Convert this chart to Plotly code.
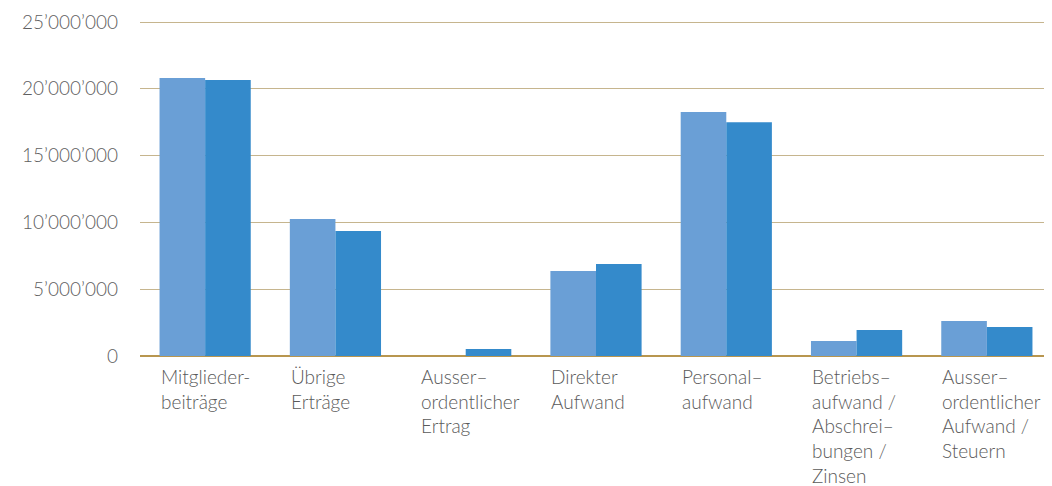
import plotly.graph_objects as go

categories = [
    "Mitglieder-<br>beiträge",
    "Übrige<br>Erträge",
    "Ausser–<br>ordentlicher<br>Ertrag",
    "Direkter<br>Aufwand",
    "Personal–<br>aufwand",
    "Betriebs–<br>aufwand /<br>Abschrei–<br>bungen /<br>Zinsen",
    "Ausser–<br>ordentlicher<br>Aufwand /<br>Steuern",
]
series_a = [20800000, 10250000, 0, 6360000, 18260000, 1120000, 2620000]
series_b = [20660000, 9360000, 520000, 6890000, 17500000, 1950000, 2170000]
tick_vals = [0, 5000000, 10000000, 15000000, 20000000, 25000000]
tick_text = ["0", "5’000’000", "10’000’000", "15’000’000", "20’000’000", "25’000’000"]

idx = list(range(len(categories)))

fig = go.Figure()
fig.add_trace(go.Bar(x=idx, y=series_a, marker_color="#6a9fd6", marker_line_width=0, name="A"))
fig.add_trace(go.Bar(x=idx, y=series_b, marker_color="#348acb", marker_line_width=0, name="B"))

font_family = "Lato, 'Open Sans', sans-serif"
for i, lab in enumerate(categories):
    fig.add_annotation(
        x=i - 0.35, y=0, xref="x", yref="y", text=lab, showarrow=False,
        xanchor="left", yanchor="top", align="left", yshift=-7, xshift=-1,
        font=dict(family=font_family, size=19, color="#5a5a5a", weight=300),
    )

fig.update_layout(
    width=1044, height=478,
    margin=dict(l=132, r=0, t=10, b=130),
    barmode="group", bargap=0.3, bargroupgap=0,
    showlegend=False,
    plot_bgcolor="white", paper_bgcolor="white",
    font=dict(family=font_family, color="#666666"),
)
fig.update_xaxes(range=[-0.5, len(categories) - 0.5], showticklabels=False, showgrid=False,
                 zeroline=False, showline=False, ticks="")
fig.update_yaxes(range=[0, 25300000], tickvals=tick_vals, ticktext=tick_text,
                 showgrid=True, gridcolor="#c6b58e", gridwidth=1.3,
                 zeroline=True, zerolinecolor="#b8964f", zerolinewidth=2,
                 showline=False, ticks="", ticklabelstandoff=21,
                 tickfont=dict(family=font_family, size=19, color="#5f5f5f", weight=300))

fig.write_html("out.html")
